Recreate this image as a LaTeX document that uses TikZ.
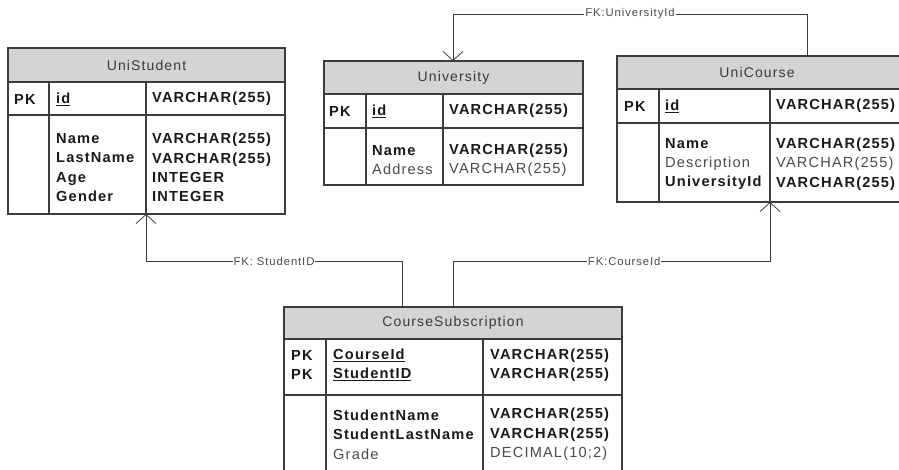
\documentclass[tikz,border=0pt]{standalone}
\usepackage{fontspec}
\setmainfont{Liberation Sans}[LetterSpace=8]
\usetikzlibrary{arrows.meta}
\definecolor{linegray}{HTML}{3C3C3C}
\definecolor{hdrgray}{HTML}{D4D4D4}
\definecolor{titlegray}{HTML}{3A3A3A}
\definecolor{textgray}{HTML}{4A4A4A}
\tikzset{
  tbl/.style={draw=linegray, line width=1.2pt},
  hdr/.style={tbl, fill=hdrgray},
  title/.style={font=\fontsize{14}{16}\selectfont, text=titlegray, inner sep=0pt},
  cell/.style={anchor=west, align=left, inner sep=0pt, text=black!90,
    font=\fontsize{14.6}{19.4}\selectfont\bfseries},
  fk/.style={draw=linegray, line width=0.8pt, -{Straight Barb[length=9pt,width=20pt]}},
  fklabel/.style={fill=white, inner sep=1pt, text=textgray,
    font=\fontsize{11.3}{13}\selectfont}
}
\newcommand{\rg}[1]{{\mdseries\color{textgray}#1}}
\begin{document}
\begin{tikzpicture}[x=1pt,y=-1pt]
  \useasboundingbox (0,0) rectangle (899,470);
  \clip (0,0) rectangle (899,470);
  % UniStudent
  \draw[hdr] (8,48) rectangle (285,82);
  \draw[tbl] (8,82) rectangle (285,214) (8,115) -- (285,115)
    (49,82) -- (49,214) (146,82) -- (146,214);
  \node[title] (unistudent) at (146.5,65) {UniStudent};
  \node[cell] (stu-pk) at (14,99) {PK};
  \node[cell] (stu-key) at (56,99) {\underline{id}};
  \node[cell] (stu-keytype) at (152,99) {VARCHAR(255)};
  \node[cell] (stu-cols) at (56,167.5) {Name\\LastName\\Age\\Gender};
  \node[cell] (stu-types) at (152,167.5) {VARCHAR(255)\\VARCHAR(255)\\INTEGER\\INTEGER};
  % University
  \draw[hdr] (324,61) rectangle (583,94);
  \draw[tbl] (324,94) rectangle (583,185) (324,128) -- (583,128)
    (366,94) -- (366,185) (443,94) -- (443,185);
  \node[title] (university) at (453.5,77.5) {University};
  \node[cell] (uni-pk) at (329,111) {PK};
  \node[cell] (uni-key) at (372,111) {\underline{id}};
  \node[cell] (uni-keytype) at (449,111) {VARCHAR(255)};
  \node[cell] (uni-cols) at (372,160) {Name\\\rg{Address}};
  \node[cell] (uni-types) at (449,160) {VARCHAR(255)\\\rg{VARCHAR(255)}};
  % UniCourse
  \draw[hdr] (617,56) rectangle (906,89);
  \draw[tbl] (617,89) rectangle (906,202) (617,123) -- (906,123)
    (659,89) -- (659,202) (770,89) -- (770,202);
  \node[title] (unicourse) at (757,72.5) {UniCourse};
  \node[cell] (crs-pk) at (624,106) {PK};
  \node[cell] (crs-key) at (665,106) {\underline{id}};
  \node[cell] (crs-keytype) at (776,106) {VARCHAR(255)};
  \node[cell] (crs-cols) at (665,164) {Name\\\rg{Description}\\UniversityId};
  \node[cell] (crs-types) at (776,164) {VARCHAR(255)\\\rg{VARCHAR(255)}\\VARCHAR(255)};
  % CourseSubscription
  \draw[hdr] (284,307) rectangle (622,339);
  \draw[tbl] (284,339) rectangle (622,480) (284,395) -- (622,395)
    (326,339) -- (326,480) (483,339) -- (483,480);
  \node[title] (coursesub) at (453,323) {CourseSubscription};
  \node[cell] (sub-pk) at (291,365) {PK\\PK};
  \node[cell] (sub-keys) at (333,365) {\underline{CourseId}\\\underline{StudentID}};
  \node[cell] (sub-keytypes) at (490,365) {VARCHAR(255)\\VARCHAR(255)};
  \node[cell] (sub-cols) at (333,434.5) {StudentName\\StudentLastName\\\rg{Grade}};
  \node[cell] (sub-types) at (490,434.5) {VARCHAR(255)\\VARCHAR(255)\\\rg{DECIMAL(10;2)}};
  % connector ends
  \coordinate (stu-in) at (146,214);
  \coordinate (uni-in) at (453,61);
  \coordinate (crs-in) at (770,202);
  \coordinate (crs-out) at (807,56);
  \coordinate (sub-stu) at (402,307);
  \coordinate (sub-crs) at (453,307);
  % foreign keys
  \draw[fk] (crs-out) -- ++(0,-42) -| node[fklabel, pos=0.25] {FK:UniversityId} (uni-in);
  \draw[fk] (sub-stu) -- ++(0,-46) -| node[fklabel, pos=0.25] {FK: StudentID} (stu-in);
  \draw[fk] (sub-crs) -- ++(0,-46) -| node[fklabel, pos=0.27] {FK:CourseId} (crs-in);
\end{tikzpicture}
\end{document}
